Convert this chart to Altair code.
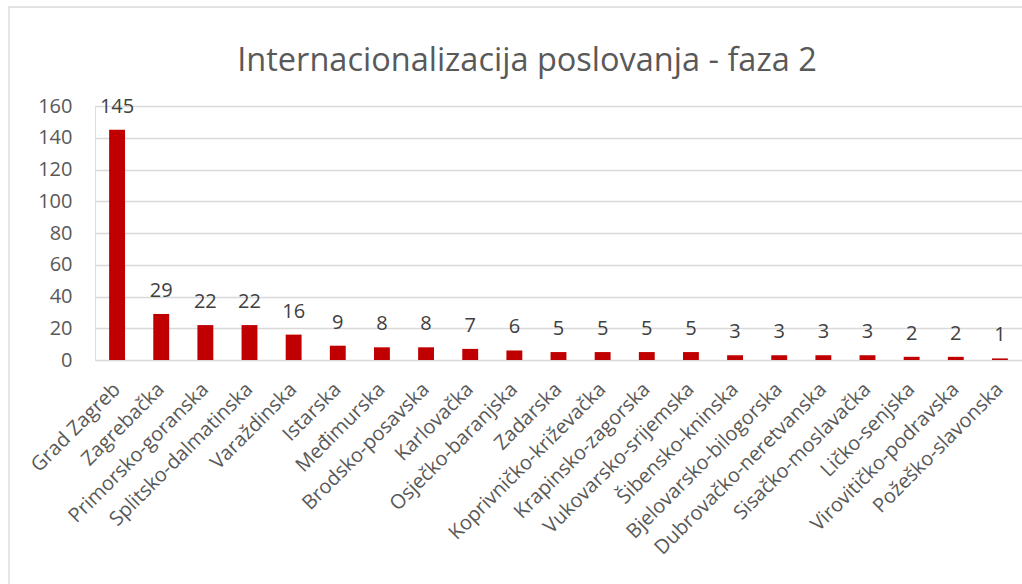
import altair as alt
import pandas as pd

# Counties and number of approved projects
counties = [
    "Grad Zagreb", "Zagrebačka", "Primorsko-goranska", "Splitsko-dalmatinska",
    "Varaždinska", "Istarska", "Međimurska", "Brodsko-posavska", "Karlovačka",
    "Osječko-baranjska", "Zadarska", "Koprivničko-križevačka", "Krapinsko-zagorska",
    "Vukovarsko-srijemska", "Šibensko-kninska", "Bjelovarsko-bilogorska",
    "Dubrovačko-neretvanska", "Sisačko-moslavačka", "Ličko-senjska",
    "Virovitičko-podravska", "Požeško-slavonska",
]
counts = [145, 29, 22, 22, 16, 9, 8, 8, 7, 6, 5, 5, 5, 5, 3, 3, 3, 3, 2, 2, 1]
y_ticks = [0, 20, 40, 60, 80, 100, 120, 140, 160]
title_text = ["Internacionalizacija poslovanja - faza 2"]

df = pd.DataFrame({"zupanija": counties, "broj": counts})

FONT = "Open Sans"
PLOT_W, PLOT_H = 927, 254

x = alt.X(
    "zupanija:N",
    sort=counties,
    scale=alt.Scale(paddingInner=0.64, paddingOuter=0.32),
    axis=alt.Axis(
        title=None, labelAngle=-45, labelAlign="right", labelBaseline="middle",
        labelFontSize=20, labelColor="#595959", labelFont=FONT,
        labelPadding=26, ticks=False, domain=False, grid=False,
        labelOverlap=False, labelLimit=400,
    ),
)
y = alt.Y(
    "broj:Q",
    scale=alt.Scale(domain=[0, 160], nice=False),
    axis=alt.Axis(
        title=None, values=y_ticks, labelFontSize=20, labelColor="#595959",
        labelFont=FONT, labelPadding=23, ticks=False, domain=False,
        grid=True, gridColor="#d9d9d9", gridWidth=1.3,
    ),
)

bars = alt.Chart(df).mark_bar(color="#C00000").encode(x=x, y=y)

labels = alt.Chart(df).mark_text(
    baseline="alphabetic", dy=-17, fontSize=20, color="#404040", font=FONT
).encode(x=x, y=y, text="broj:Q")

# Outer chart frame
frame = alt.Chart(pd.DataFrame({"f": [0]})).mark_rect(
    fill=None, stroke="#d9d9d9", strokeWidth=1.3
).encode(
    x=alt.value(-86), x2=alt.value(PLOT_W + 40),
    y=alt.value(-99), y2=alt.value(PLOT_H + 260),
)

# Chart heading, centred on the frame
heading = alt.Chart(pd.DataFrame({"t": title_text})).mark_text(
    font=FONT, fontSize=32.5, color="#595959", align="center", baseline="middle"
).encode(x=alt.value(432), y=alt.value(-45), text="t:N")

chart = (
    alt.layer(frame, heading, bars, labels)
    .properties(
        width=PLOT_W, height=PLOT_H,
        autosize=alt.AutoSizeParams(type="none"),
        padding={"left": 95, "top": 106, "right": 0, "bottom": 224},
    )
    .configure_view(stroke=None)
    .configure(background="white")
)

chart.save("out.html", embed_options={"renderer": "svg", "actions": False})
